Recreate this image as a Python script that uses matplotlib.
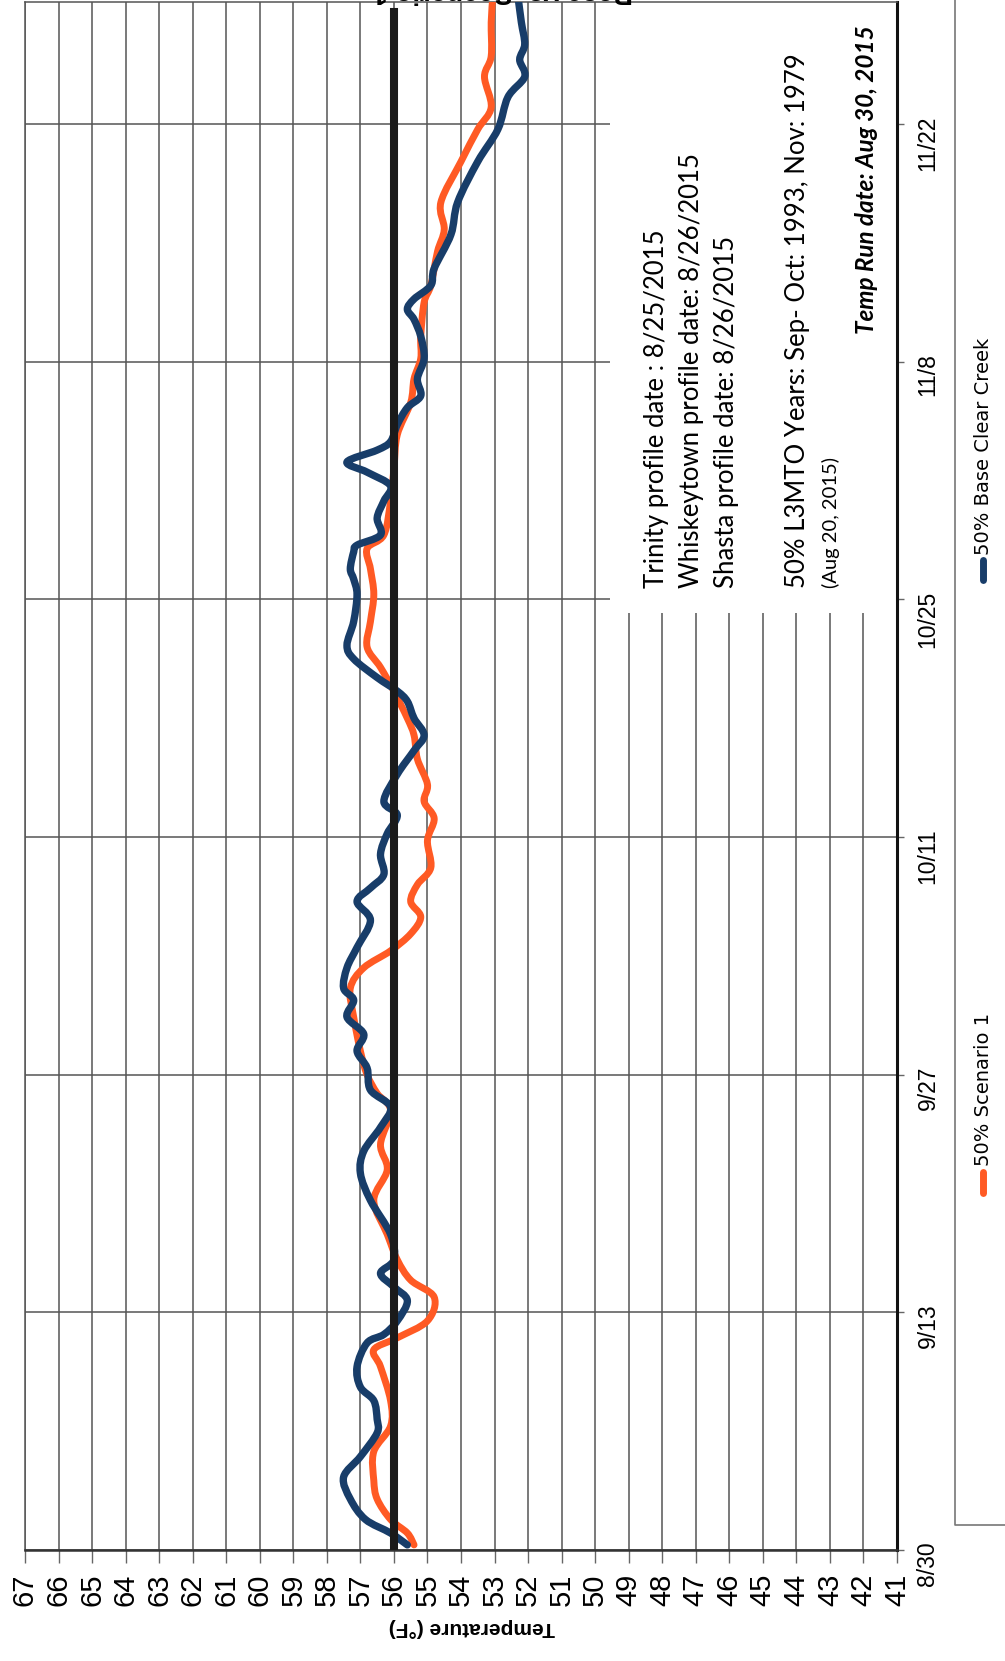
import matplotlib.pyplot as plt
from matplotlib.lines import Line2D
from matplotlib.path import Path
from matplotlib.patches import PathPatch

# days after 8/30/2015
base_days = [0.3, 1.0, 1.8, 3.0, 4.3, 5.5, 6.9, 7.7, 8.8, 9.6, 10.8, 12.2, 12.7, 13.5, 14.7,
             15.5, 16.3, 17.1, 18.6, 20.6, 22.2, 23.5, 24.9, 26.1, 27.1, 28.4, 29.4, 30.4,
             31.4, 32.4, 33.1, 34.3, 35.5, 37.1, 38.2, 39.0, 39.8, 41.0, 42.2, 43.3, 44.1,
             45.7, 47.1, 48.0, 49.0, 50.0, 50.6, 51.4, 52.5, 53.3, 54.7, 56.3, 57.2, 57.8,
             58.8, 59.2, 59.8, 60.8, 61.8, 62.7, 63.5, 64.1, 64.8, 65.3, 66.3, 67.3, 68.0,
             69.0, 70.2, 71.5, 72.5, 73.1, 73.7, 74.5, 75.5, 77.5, 79.4, 81.8, 83.7, 85.6,
             86.8, 87.8, 88.7, 90.0, 91.5]
base_temp = [55.6, 56.1, 56.85, 57.3, 57.5, 57.0, 56.5, 56.5, 56.6, 57.0, 57.1, 56.8, 56.3, 55.9, 55.6,
             56.0, 56.4, 56.0, 56.1, 56.7, 57.0, 56.9, 56.4, 56.1, 56.7, 56.8, 57.1, 56.9,
             57.4, 57.2, 57.5, 57.4, 57.1, 56.7, 57.1, 56.7, 56.3, 56.4, 56.2, 55.9, 56.3,
             55.9, 55.4, 55.1, 55.4, 55.6, 55.9, 56.5, 57.2, 57.4, 57.2, 57.1, 57.2, 57.3,
             57.2, 57.1, 56.4, 56.5, 56.3, 56.1, 56.8, 57.4, 56.5, 56.1, 55.9, 55.6, 55.2,
             55.3, 55.1, 55.2, 55.4, 55.6, 55.4, 54.9, 54.8, 54.3, 54.1, 53.5, 52.9, 52.6,
             52.1, 52.25, 52.1, 52.2, 52.3]

scen_days = [0.3, 1.0, 1.8, 3.0, 4.1, 5.8, 7.3, 8.8, 10.8, 11.8, 12.5, 13.5, 14.9, 15.9, 17.1,
             18.6, 20.6, 22.4, 23.9, 25.9, 26.9, 28.0, 29.4, 31.4, 33.1, 34.3, 35.3, 36.3,
             37.3, 38.2, 39.2, 40.2, 41.8, 43.1, 44.1, 45.1, 46.6, 48.0, 49.0, 50.6, 52.0,
             53.2, 54.7, 56.3, 57.8, 59.0, 59.8, 61.8, 63.7, 65.7, 67.6, 69.0, 70.2, 71.5,
             73.5, 74.5, 76.5, 77.8, 79.4, 81.8, 83.7, 85.0, 86.8, 88.0, 90.0, 91.5]
scen_temp = [55.4, 55.6, 56.1, 56.5, 56.6, 56.6, 56.1, 56.1, 56.4, 56.6, 55.9, 55.0, 54.8, 55.5, 55.9,
             56.2, 56.6, 56.2, 56.4, 56.1, 56.5, 56.8, 57.0, 57.2, 57.3, 56.9, 56.1, 55.5,
             55.2, 55.5, 55.3, 54.9, 55.0, 54.8, 55.1, 55.0, 55.3, 55.4, 55.6, 56.0, 56.4,
             56.8, 56.7, 56.6, 56.7, 56.8, 56.3, 56.1, 56.0, 55.9, 55.5, 55.4, 55.2, 55.2,
             55.1, 54.9, 54.7, 54.5, 54.6, 54.0, 53.5, 53.1, 53.3, 53.1, 53.1, 53.05]

target_days = [0, 90.6]
target_temp = [56, 56]

date_ticks = [0, 14, 28, 42, 56, 70, 84]
date_labels = ['8/30', '9/13', '9/27', '10/11', '10/25', '11/8', '11/22']
temp_ticks = list(range(41, 68))

note_lines = ['Trinity profile date : 8/25/2015',
              'Whiskeytown profile date: 8/26/2015',
              'Shasta profile date: 8/26/2015',
              '50% L3MTO Years: Sep- Oct: 1993, Nov: 1979']

W, H = 1005, 1661


def fx(x):
    return x / W


def fy(y):
    return 1 - y / H


def smooth_line(ax, xs, ys, **kw):
    # excel-style smoothed line: bezier segments through the data points
    pts = list(zip(xs, ys))
    verts = [pts[0]]
    codes = [Path.MOVETO]
    n = len(pts)
    for i in range(n - 1):
        p0 = pts[max(i - 1, 0)]
        p1 = pts[i]
        p2 = pts[i + 1]
        p3 = pts[min(i + 2, n - 1)]
        c1 = (p1[0] + (p2[0] - p0[0]) / 6, p1[1] + (p2[1] - p0[1]) / 6)
        c2 = (p2[0] - (p3[0] - p1[0]) / 6, p2[1] - (p3[1] - p1[1]) / 6)
        verts += [c1, c2, p2]
        codes += [Path.CURVE4] * 3
    ax.add_patch(PathPatch(Path(verts, codes), fill=False, capstyle='round',
                           joinstyle='round', **kw))


fig = plt.figure(figsize=(W / 100, H / 100), dpi=100)
ax = fig.add_axes([fx(25), fy(1550), fx(897) - fx(25), fy(2) - fy(1550)])

smooth_line(ax, scen_temp, scen_days, edgecolor='#ff5a24', lw=5, zorder=3)
smooth_line(ax, base_temp, base_days, edgecolor='#183d69', lw=5.3, zorder=3.5)
ax.plot(target_temp, target_days, color='#1a1a1a', lw=5.8, zorder=4)

ax.set_xlim(67, 41)
ax.set_ylim(0, 91.2)
ax.set_xticks(temp_ticks)
ax.set_xticklabels([str(t) for t in temp_ticks], rotation=90, fontsize=21,
                   family='Liberation Sans')
ax.yaxis.tick_right()
ax.set_yticks(date_ticks)
ax.set_yticklabels(date_labels, rotation=90, fontsize=16.5, family='Liberation Sans')
ax.tick_params(axis='x', length=9, width=1, color='#666', pad=8)
ax.tick_params(axis='y', length=5, width=1, color='#666', pad=9)

ax.set_axisbelow(True)
ax.grid(True, color='#555', lw=1.1)
for s in ['left', 'top']:
    ax.spines[s].set_color('#555')
    ax.spines[s].set_linewidth(1.1)
ax.spines['bottom'].set_color('#333')
ax.spines['bottom'].set_linewidth(1.8)
ax.spines['right'].set_color('#111')
ax.spines['right'].set_linewidth(2.2)

# white note box over the grid (x axis is inverted, so start at 41)
box = plt.Rectangle((41, 55.2), 49.55 - 41, 40, facecolor='white', edgecolor='none', zorder=1.5)
ax.add_patch(box)

xs = [656, 691, 726, 797]
for x, t in zip(xs, note_lines):
    fig.text(fx(x), fy(588), t, rotation=90, rotation_mode='anchor', ha='left', va='center',
             fontsize=18.5, family='Lato')
fig.text(fx(831), fy(588), '(Aug 20, 2015)', rotation=90, rotation_mode='anchor', ha='left',
         va='center', fontsize=14.5, family='Lato')
fig.text(fx(866), fy(334), 'Temp Run date: Aug 30, 2015', rotation=90, rotation_mode='anchor',
         ha='left', va='center', fontsize=17.5, family='Lato', weight='bold', style='italic')

fig.text(fx(472), fy(1628), 'Temperature (°F)', rotation=180, rotation_mode='anchor',
         ha='center', va='center', fontsize=15, weight='bold', family='Liberation Sans')

fig.text(fx(503), fy(4), 'Base vs. Scenario 1', rotation=180, rotation_mode='anchor',
         ha='center', va='top', fontsize=20, weight='bold', family='Liberation Sans')

# legend
fig.add_artist(Line2D([fx(983), fx(983)], [fy(1193), fy(1172)], color='#ff5a24', lw=5,
                      solid_capstyle='round'))
fig.text(fx(983), fy(1166), '50% Scenario 1', rotation=90, rotation_mode='anchor', ha='left',
         va='center', fontsize=14, family='Liberation Sans Narrow')
fig.add_artist(Line2D([fx(983), fx(983)], [fy(580), fy(560)], color='#183d69', lw=5,
                      solid_capstyle='round'))
fig.text(fx(983), fy(555), '50% Base Clear Creek', rotation=90, rotation_mode='anchor', ha='left',
         va='center', fontsize=14, family='Liberation Sans Narrow')
fig.add_artist(Line2D([fx(955), fx(955), fx(1005)], [fy(0), fy(1525), fy(1525)], color='#777',
                      lw=1.2))

fig.savefig('out.png', dpi=100)
